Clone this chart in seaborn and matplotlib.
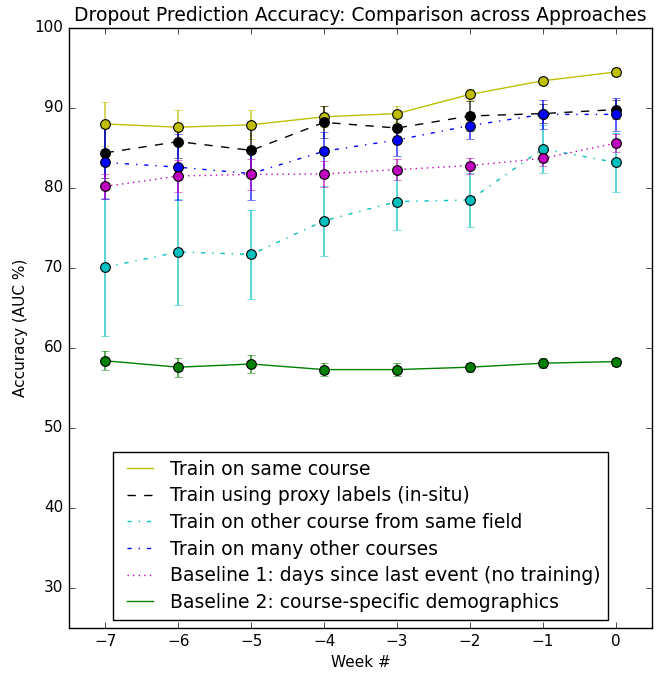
import matplotlib
matplotlib.use("Agg")
import pandas as pd
import seaborn as sns
from matplotlib import pyplot as plt

# week offsets relative to course end
weeks = [-7, -6, -5, -4, -3, -2, -1, 0]

same_course = [88.0, 87.6, 87.9, 88.9, 89.3, 91.7, 93.4, 94.5]
same_course_err = [2.7, 2.2, 1.8, 1.3, 1.0, 0.7, 0.4, 0.5]

proxy_labels = [84.4, 85.8, 84.7, 88.2, 87.5, 89.0, 89.3, 89.8]
proxy_labels_err = [3.1, 2.0, 2.8, 2.0, 1.5, 1.9, 1.2, 1.2]

same_field = [70.1, 72.0, 71.7, 75.9, 78.3, 78.5, 84.9, 83.2]
same_field_err = [8.6, 6.6, 5.6, 4.4, 3.5, 3.4, 3.0, 3.7]

many_courses = [83.2, 82.6, 81.8, 84.6, 86.0, 87.8, 89.2, 89.2]
many_courses_err = [4.6, 4.1, 3.3, 2.4, 2.0, 1.7, 1.8, 2.1]

baseline1 = [80.2, 81.5, 81.7, 81.75, 82.3, 82.8, 83.7, 85.6]
baseline1_err = [1.6, 2.0, 1.9, 1.6, 1.35, 1.0, 1.0, 1.1]

baseline2 = [58.4, 57.6, 58.0, 57.3, 57.3, 57.6, 58.1, 58.3]
baseline2_err = [1.2, 1.2, 1.15, 0.85, 0.85, 0.55, 0.6, 0.5]

labels = ["Train on same course",
          "Train using proxy labels (in-situ)",
          "Train on other course from same field",
          "Train on many other courses",
          "Baseline 1: days since last event (no training)",
          "Baseline 2: course-specific demographics"]

plt.style.use("classic")
plt.rcParams["font.family"] = "DejaVu Sans"

fig = plt.figure(figsize=(6.65, 6.73), dpi=100, facecolor="white")
ax = fig.add_axes([0.1038, 0.0669, 0.8767, 0.8915])

series = [
    (same_course, same_course_err, "y", "-"),
    (proxy_labels, proxy_labels_err, "k", "--"),
    (same_field, same_field_err, "c", "-."),
    (many_courses, many_courses_err, "b", "-."),
    (baseline1, baseline1_err, "m", ":"),
    (baseline2, baseline2_err, "g", "-"),
]

for (vals, errs, col, ls), lab in zip(series, labels):
    df = pd.DataFrame({"week": weeks, "auc": vals})
    sns.lineplot(data=df, x="week", y="auc", color=col, linestyle=ls,
                 linewidth=1.0, label=lab, ax=ax)
    ax.errorbar(weeks, vals, yerr=errs, fmt="none", ecolor=col,
                elinewidth=1.2, capsize=3, alpha=0.75, zorder=3)
    ax.plot(weeks, vals, "o", color=col, mec="k", mew=0.8, ms=7, zorder=4)

ax.set_xlim(-7.5, 0.5)
ax.set_ylim(25, 100)
ax.set_xticks(weeks)
ax.set_yticks(range(30, 101, 10))
ax.tick_params(labelsize=11)
ax.set_xlabel("Week #", fontsize=11)
ax.set_ylabel("Accuracy (AUC %)", fontsize=11)
ax.set_title("Dropout Prediction Accuracy: Comparison across Approaches", fontsize=13.5)
ax.legend(loc="lower center", fontsize=13.5, frameon=True, borderaxespad=0.45,
          labelspacing=0.41, handlelength=2.0, handletextpad=0.6, borderpad=0.4)

fig.savefig("out.png", dpi=100, facecolor="white")
